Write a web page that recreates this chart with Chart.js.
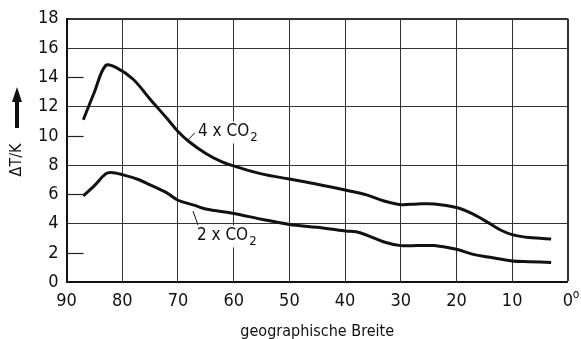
<!DOCTYPE html>
<html>
<head>
<meta charset="utf-8">
<script src="https://cdn.jsdelivr.net/npm/chart.js@4"></script>
<style>
  html, body { margin: 0; padding: 0; background: #fff; }
  #wrap { width: 581px; height: 339px; }
</style>
</head>
<body>
<div id="wrap"><canvas id="warmingChart"></canvas></div>
<script>
// geographic latitude (deg) and warming dT (K)
const lat4 = [87, 85, 83, 81, 78, 75, 72, 70, 68, 65, 62, 60, 55, 50, 45, 40, 36, 33, 30, 27, 24, 20, 17, 14, 12, 10, 7, 5, 3];
const dT4 = [11.1, 13.0, 14.8, 14.65, 13.85, 12.5, 11.2, 10.3, 9.6, 8.8, 8.2, 7.95, 7.4, 7.05, 6.7, 6.3, 5.95, 5.55, 5.3, 5.35, 5.35, 5.1, 4.65, 4.0, 3.55, 3.25, 3.05, 3.0, 2.95];
const lat2 = [87, 85, 83, 82, 80, 77, 75, 72, 70, 67, 65, 60, 55, 50, 45, 40, 38, 36, 33, 30, 27, 24, 20, 17, 14, 10, 7, 3];
const dT2 = [5.9, 6.6, 7.4, 7.5, 7.35, 7.0, 6.65, 6.1, 5.6, 5.25, 5.0, 4.7, 4.3, 3.95, 3.75, 3.5, 3.45, 3.2, 2.75, 2.5, 2.5, 2.5, 2.25, 1.9, 1.7, 1.45, 1.4, 1.35];
const seriesNames = ["4 x CO", "2 x CO"];
const xTicks = [90, 80, 70, 60, 50, 40, 30, 20, 10, 0];
const yTicks = [0, 2, 4, 6, 8, 10, 12, 14, 16, 18];

const FONT = "'DejaVu Sans Condensed', 'Liberation Sans Narrow', sans-serif";

function toPoints(xs, ys) {
  return xs.map((x, i) => ({ x: x, y: ys[i] }));
}

// short inner tick marks, curve labels with leader lines, y title with arrow
const decorations = {
  id: "decorations",
  afterDatasetsDraw(chart) {
    const ctx = chart.ctx;
    const xs = chart.scales.x;
    const ys = chart.scales.y;
    const area = chart.chartArea;
    ctx.save();

    // inward ticks on the left axis for values without a gridline
    ctx.strokeStyle = "#222";
    ctx.lineWidth = 1.2;
    yTicks.filter(v => v % 4 !== 0 && v !== 18).forEach(v => {
      const py = Math.round(ys.getPixelForValue(v)) + 0.5;
      ctx.beginPath();
      ctx.moveTo(area.left, py);
      ctx.lineTo(area.left + 17, py);
      ctx.stroke();
    });

    // degree mark after the 0 tick label
    ctx.font = "12px " + FONT;
    ctx.fillStyle = "#111";
    ctx.textAlign = "left";
    ctx.textBaseline = "middle";
    ctx.fillText("o", xs.getPixelForValue(0) + 5, area.bottom + 13);

    // curve labels
    const labels = [
      { name: seriesNames[0], from: [68.4, 9.65], to: [67.0, 10.2], text: [66.4, 10.3] },
      { name: seriesNames[1], from: [67.3, 4.86], to: [66.4, 3.9], text: [66.6, 3.2] }
    ];
    labels.forEach(l => {
      ctx.strokeStyle = "#111";
      ctx.lineWidth = 1;
      ctx.beginPath();
      ctx.moveTo(xs.getPixelForValue(l.from[0]), ys.getPixelForValue(l.from[1]));
      ctx.lineTo(xs.getPixelForValue(l.to[0]), ys.getPixelForValue(l.to[1]));
      ctx.stroke();

      const tx = xs.getPixelForValue(l.text[0]);
      const ty = ys.getPixelForValue(l.text[1]);
      ctx.font = "17px " + FONT;
      const w1 = ctx.measureText(l.name).width;
      ctx.font = "13px " + FONT;
      const w2 = ctx.measureText("2").width;
      ctx.fillStyle = "#fff";
      ctx.fillRect(tx - 2, ty - 10, w1 + w2 + 5, 22);
      ctx.fillStyle = "#111";
      ctx.textBaseline = "middle";
      ctx.textAlign = "left";
      ctx.font = "17px " + FONT;
      ctx.fillText(l.name, tx, ty);
      ctx.font = "13px " + FONT;
      ctx.fillText("2", tx + w1 + 1, ty + 6);
    });

    // y axis title with upward arrow
    const cx = 17;
    ctx.save();
    ctx.translate(cx, 160);
    ctx.rotate(-Math.PI / 2);
    ctx.font = "16px " + FONT;
    ctx.fillStyle = "#111";
    ctx.textAlign = "center";
    ctx.textBaseline = "middle";
    ctx.fillText("\u0394T/K", 0, 0);
    ctx.restore();

    ctx.fillStyle = "#111";
    ctx.fillRect(cx - 2, 100, 4, 28);
    ctx.beginPath();
    ctx.moveTo(cx, 87);
    ctx.lineTo(cx - 5, 102);
    ctx.lineTo(cx + 5, 102);
    ctx.closePath();
    ctx.fill();

    ctx.restore();
  }
};

new Chart(document.getElementById("warmingChart"), {
  type: "line",
  data: {
    datasets: [
      {
        label: seriesNames[0] + "2",
        data: toPoints(lat4, dT4),
        borderColor: "#111",
        borderWidth: 3,
        pointRadius: 0,
        tension: 0.35,
        fill: false
      },
      {
        label: seriesNames[1] + "2",
        data: toPoints(lat2, dT2),
        borderColor: "#111",
        borderWidth: 3,
        pointRadius: 0,
        tension: 0.35,
        fill: false
      }
    ]
  },
  options: {
    responsive: true,
    maintainAspectRatio: false,
    animation: false,
    devicePixelRatio: 1,
    layout: { padding: { left: 30, right: 0, top: -2, bottom: -2 } },
    plugins: {
      legend: { display: false },
      tooltip: { enabled: false }
    },
    scales: {
      x: {
        type: "linear",
        reverse: true,
        min: 0,
        max: 90,
        afterBuildTicks: axis => { axis.ticks = xTicks.map(v => ({ value: v })); },
        ticks: {
          color: "#111",
          font: { family: FONT, size: 18 },
          padding: 8,
          maxRotation: 0
        },
        grid: {
          drawTicks: false,
          color: "#333",
          lineWidth: c => (c.tick && c.tick.value === 0 ? 2 : 1)
        },
        border: { color: "#111", width: 2 },
        title: {
          display: true,
          text: "geographische Breite",
          color: "#111",
          font: { family: FONT, size: 16 },
          padding: { top: 2, bottom: 0 }
        }
      },
      y: {
        min: 0,
        max: 18,
        afterBuildTicks: axis => { axis.ticks = yTicks.map(v => ({ value: v })); },
        ticks: {
          color: "#111",
          font: { family: FONT, size: 18 },
          padding: 8
        },
        grid: {
          drawTicks: false,
          color: c => {
            const v = c.tick ? c.tick.value : 0;
            return v % 4 === 0 || v === 18 ? "#333" : "rgba(0,0,0,0)";
          },
          lineWidth: c => (c.tick && c.tick.value === 18 ? 2 : 1)
        },
        border: { color: "#111", width: 2 }
      }
    }
  },
  plugins: [decorations]
});
</script>
</body>
</html>
